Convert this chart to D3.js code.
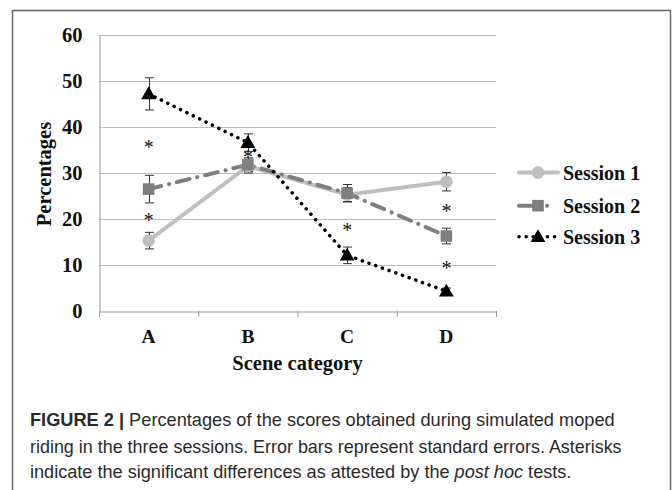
<!DOCTYPE html>
<html>
<head>
<meta charset="utf-8">
<script src="https://cdnjs.cloudflare.com/ajax/libs/d3/7.8.5/d3.min.js"></script>
<style>
  html, body { margin: 0; padding: 0; background: #fff; }
  svg { display: block; }
</style>
</head>
<body>
<div id="chart"></div>
<script>
// data
const categories = ['A', 'B', 'C', 'D'];
const yTicks = [0, 10, 20, 30, 40, 50, 60];
const session1 = [15.3, 31.5, 25.3, 28.1];
const session1Err = [1.8, 1.5, 1.5, 2.0];
const session2 = [26.5, 31.8, 25.6, 16.3];
const session2Err = [3.0, 1.5, 1.9, 1.7];
const session3 = [47.2, 36.6, 12.1, 4.3];
const session3Err = [3.5, 1.9, 1.8, 0.7];
const seriesNames = ['Session 1', 'Session 2', 'Session 3'];
// asterisks: [category, value]
const asterisks = [['A', 36.1], ['A', 20.2], ['B', 34.0], ['C', 18.1], ['D', 22.1], ['D', 9.8]];
const captionLines = [
  [{t: 'FIGURE 2 | ', b: true}, {t: 'Percentages of the scores obtained during simulated moped'}],
  [{t: 'riding in the three sessions. Error bars represent standard errors. Asterisks'}],
  [{t: 'indicate the significant differences as attested by the '}, {t: 'post hoc', i: true}, {t: ' tests.'}]
];

const W = 672, H = 490;
const serif = "'Liberation Serif', 'Times New Roman', serif";
const svg = d3.select('#chart').append('svg')
  .attr('width', W).attr('height', H);

// frame around the figure
svg.append('rect')
  .attr('x', 12.5).attr('y', 10.5)
  .attr('width', 658).attr('height', 500)
  .attr('fill', 'none').attr('stroke', '#666').attr('stroke-width', 1.5);

const plot = { left: 99, right: 496, top: 35, bottom: 311 };

const x = d3.scaleBand().domain(categories).range([plot.left, plot.right]).padding(0);
const cx = c => x(c) + x.bandwidth() / 2;
const y = d3.scaleLinear().domain([0, 60]).range([plot.bottom, plot.top]);

// gridlines
svg.append('g').selectAll('line').data(yTicks.filter(d => d > 0)).join('line')
  .attr('x1', plot.left).attr('x2', plot.right)
  .attr('y1', d => y(d) + 0.5).attr('y2', d => y(d) + 0.5)
  .attr('stroke', '#bdbdbd').attr('stroke-width', 1);

// y axis
const yAxis = svg.append('g')
  .attr('transform', `translate(${plot.left + 0.5},0)`)
  .call(d3.axisLeft(y).tickValues(yTicks).tickSize(0).tickPadding(17));
yAxis.select('.domain').attr('stroke', '#999');
yAxis.selectAll('text')
  .attr('font-family', serif).attr('font-size', 20.5).attr('font-weight', 'bold').attr('fill', '#111');

// x axis
const xAxis = svg.append('g')
  .attr('transform', `translate(0,${plot.bottom + 0.5})`)
  .call(d3.axisBottom(x).tickSize(0).tickPadding(18));
xAxis.select('.domain').attr('stroke', '#999');
xAxis.selectAll('text')
  .attr('font-family', serif).attr('font-size', 19.5).attr('font-weight', 'bold').attr('fill', '#111');
// tick marks between categories
const bounds = categories.map(c => x(c)).concat([plot.right]);
svg.append('g').selectAll('line').data(bounds).join('line')
  .attr('x1', d => d + 0.5).attr('x2', d => d + 0.5)
  .attr('y1', plot.bottom).attr('y2', plot.bottom + 6)
  .attr('stroke', '#999');

// axis titles
svg.append('text')
  .attr('transform', `translate(50.5,${(plot.top + plot.bottom) / 2 + 1}) rotate(-90)`)
  .attr('text-anchor', 'middle')
  .attr('font-family', serif).attr('font-size', 20.5).attr('font-weight', 'bold').attr('fill', '#111')
  .text('Percentages');
svg.append('text')
  .attr('x', (plot.left + plot.right) / 2).attr('y', 370)
  .attr('text-anchor', 'middle')
  .attr('font-family', serif).attr('font-size', 20.5).attr('font-weight', 'bold').attr('fill', '#111')
  .text('Scene category');

const series = [
  { name: seriesNames[0], values: session1, err: session1Err, color: '#bfbfbf', width: 4, dash: null, marker: 'circle' },
  { name: seriesNames[1], values: session2, err: session2Err, color: '#7f7f7f', width: 4, dash: '13,8,0.1,8', marker: 'square' },
  { name: seriesNames[2], values: session3, err: session3Err, color: '#000', width: 3.5, dash: '0.1,7', marker: 'triangle' }
];

const line = d3.line().x((d, i) => cx(categories[i])).y(d => y(d));

function drawMarker(g, type, color) {
  if (type === 'circle') {
    g.append('circle').attr('r', 6.3).attr('fill', color);
  } else if (type === 'square') {
    g.append('rect').attr('x', -5.8).attr('y', -5.8).attr('width', 11.6).attr('height', 11.6).attr('fill', color);
  } else {
    g.append('path').attr('d', d3.symbol(d3.symbolTriangle, 95)()).attr('fill', color)
      .attr('transform', 'translate(0,1)');
  }
}

// lines
series.forEach(s => {
  svg.append('path')
    .datum(s.values)
    .attr('d', line)
    .attr('fill', 'none')
    .attr('stroke', s.color)
    .attr('stroke-width', s.width)
    .attr('stroke-linecap', 'round')
    .attr('stroke-dasharray', s.dash);
});

// error bars
series.forEach(s => {
  const g = svg.append('g');
  s.values.forEach((v, i) => {
    const px = Math.round(cx(categories[i])) + 0.5;
    const y0 = y(v - s.err[i]), y1 = y(v + s.err[i]);
    g.append('line').attr('x1', px).attr('x2', px).attr('y1', y0).attr('y2', y1)
      .attr('stroke', '#333').attr('stroke-width', 1);
    [y0, y1].forEach(yy => {
      g.append('line').attr('x1', px - 4.5).attr('x2', px + 4.5).attr('y1', yy).attr('y2', yy)
        .attr('stroke', '#333').attr('stroke-width', 1);
    });
  });
});

// markers
series.forEach(s => {
  s.values.forEach((v, i) => {
    const g = svg.append('g').attr('transform', `translate(${cx(categories[i])},${y(v)})`);
    drawMarker(g, s.marker, s.color);
  });
});

// asterisks
svg.append('g').selectAll('text').data(asterisks).join('text')
  .attr('x', d => cx(d[0]))
  .attr('y', d => y(d[1]) + 9)
  .attr('text-anchor', 'middle')
  .attr('font-family', serif).attr('font-size', 20).attr('fill', '#111')
  .text('*');

// legend
const legendY = [172.5, 205.7, 236.7];
series.forEach((s, i) => {
  const g = svg.append('g').attr('transform', `translate(0,${legendY[i]})`);
  g.append('line')
    .attr('x1', 519).attr('x2', 558).attr('y1', 0).attr('y2', 0)
    .attr('stroke', s.color).attr('stroke-width', s.width)
    .attr('stroke-linecap', 'round')
    .attr('stroke-dasharray', i === 1 ? '14,14,0.1,20' : s.dash);
  const m = g.append('g').attr('transform', 'translate(538,0)');
  drawMarker(m, s.marker, s.color);
  g.append('text')
    .attr('x', 563).attr('y', 7)
    .attr('font-family', serif).attr('font-size', 20).attr('font-weight', 'bold').attr('fill', '#111')
    .text(s.name);
});

// caption, squeezed horizontally to the width of the original
const capX = 30;
const capBase = [426, 452.5, 478];
const capWidth = [585, 592, 542];
captionLines.forEach((parts, i) => {
  const g = svg.append('g');
  const t = g.append('text')
    .attr('x', 0).attr('y', 0)
    .attr('font-family', "'Liberation Sans', Arial, sans-serif")
    .attr('font-size', 18).attr('fill', '#2a2a2a');
  parts.forEach(p => {
    t.append('tspan')
      .attr('font-weight', p.b ? 'bold' : null)
      .attr('font-style', p.i ? 'italic' : null)
      .text(p.t);
  });
  const len = t.node().getComputedTextLength();
  g.attr('transform', `translate(${capX},${capBase[i]}) scale(${capWidth[i] / len},1)`);
});
</script>
</body>
</html>
